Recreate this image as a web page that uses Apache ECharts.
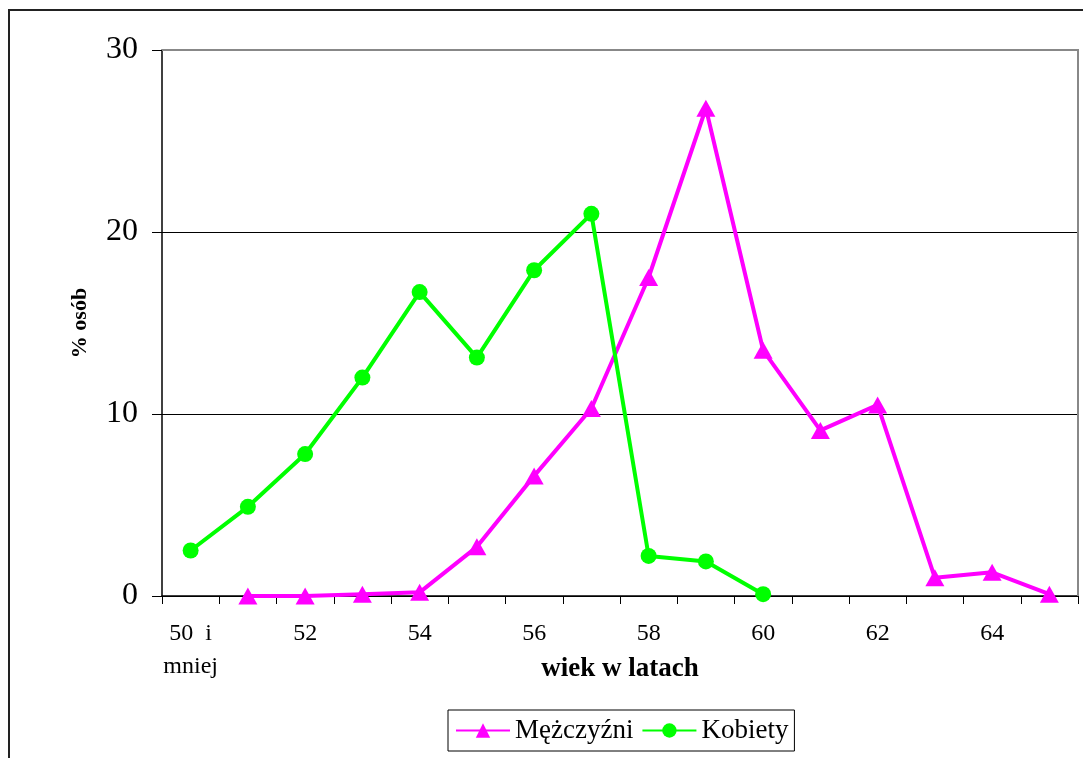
<!DOCTYPE html>
<html><head><meta charset="utf-8">
<script src="https://cdn.jsdelivr.net/npm/echarts@6/dist/echarts.min.js"></script>
<style>html,body{margin:0;padding:0;background:#fff}#c{width:1083px;height:758px}</style>
</head><body><div id="c"></div>
<script>
const categories = ['50  i\nmniej','51','52','53','54','55','56','57','58','59','60','61','62','63','64','65'];
const menValues = [null,0,0,0.1,0.2,2.7,6.6,10.3,17.5,26.8,13.5,9.1,10.5,1.0,1.3,0.1];
const womenValues = [2.5,4.9,7.8,12.0,16.7,13.1,17.9,21.0,2.2,1.9,0.1,null,null,null,null,null];
const seriesNames = ['Mężczyźni','Kobiety'];
const F = '"Liberation Serif","Times New Roman",serif';
const chart = echarts.init(document.getElementById('c'));
chart.setOption({
  animation:false,
  backgroundColor:'#fff',
  graphic:[
    {type:'rect',shape:{x:9,y:10,width:1200,height:900},style:{fill:'none',stroke:'#222',lineWidth:2},z:-1},
    {type:'polyline',shape:{points:[[162,50],[1078,50],[1078,596]]},style:{fill:'none',stroke:'#888',lineWidth:2},z:100}
  ],
  grid:{left:162,top:50,width:916,height:546,show:false},
  legend:{
    left:448,top:710,
    padding:[7,6,7,7],
    borderColor:'#000',borderWidth:1,
    itemWidth:54,itemHeight:18,itemGap:8,
    textStyle:{fontFamily:F,fontSize:27,color:'#000'},
    data:seriesNames
  },
  xAxis:{
    type:'category',data:categories,boundaryGap:true,
    name:'wiek w latach',nameLocation:'middle',nameGap:60,nameMoveOverlap:false,
    nameTextStyle:{fontFamily:F,fontSize:27,fontWeight:'bold',color:'#000'},
    axisLine:{lineStyle:{color:'#000',width:1.5}},
    axisTick:{show:true,length:8,interval:0,lineStyle:{color:'#000'}},
    axisLabel:{interval:1,margin:21,fontFamily:F,fontSize:24,color:'#000',lineHeight:33},
    splitLine:{show:false}
  },
  yAxis:{
    type:'value',min:0,max:30,interval:10,
    name:'% osób',nameLocation:'middle',nameGap:71,nameRotate:90,nameMoveOverlap:false,
    nameTextStyle:{fontFamily:F,fontSize:22,fontWeight:'bold',color:'#000'},
    axisLine:{show:true,lineStyle:{color:'#000',width:1.5}},
    axisTick:{show:true,length:10,lineStyle:{color:'#000'}},
    axisLabel:{margin:24,fontFamily:F,fontSize:32,color:'#000'},
    splitLine:{show:true,lineStyle:{color:'#000',width:1}}
  },
  series:[
    {name:seriesNames[0],type:'line',data:menValues,connectNulls:false,
     symbol:'triangle',symbolSize:[19,17],
     itemStyle:{color:'#FF00FF'},lineStyle:{color:'#FF00FF',width:4}},
    {name:seriesNames[1],type:'line',data:womenValues,connectNulls:false,
     symbol:'circle',symbolSize:16,
     itemStyle:{color:'#00FF00'},lineStyle:{color:'#00FF00',width:4}}
  ]
});
</script></body></html>
